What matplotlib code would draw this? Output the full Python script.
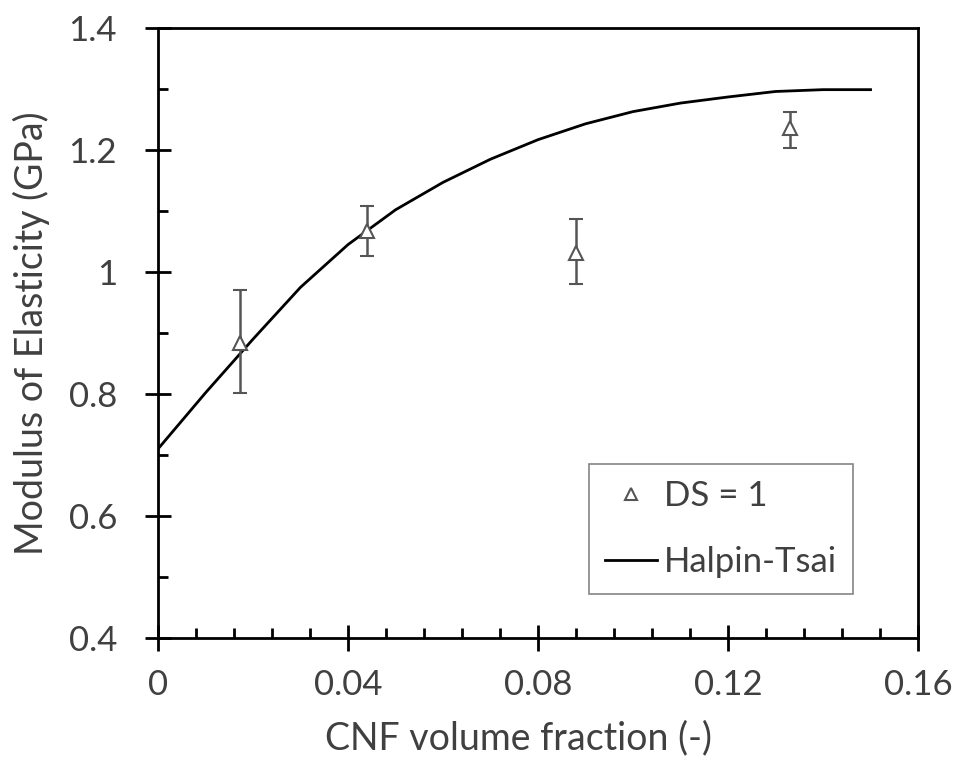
import numpy as np
import matplotlib
matplotlib.use('Agg')
import matplotlib.pyplot as plt
from matplotlib.ticker import MultipleLocator
from matplotlib.lines import Line2D

# izmjereni podaci (DS = 1)
vf = [0.0172, 0.0440, 0.0880, 0.1330]
moe = [0.884, 1.067, 1.032, 1.236]
err_lo = [0.082, 0.041, 0.051, 0.032]
err_hi = [0.087, 0.041, 0.055, 0.027]

# Halpin-Tsai kriva
ht_vf = [0.0, 0.01, 0.02, 0.03, 0.04, 0.05, 0.06, 0.07, 0.08, 0.09,
         0.10, 0.11, 0.12, 0.13, 0.14, 0.15]
ht_moe = [0.710, 0.802, 0.890, 0.975, 1.045, 1.102, 1.147, 1.185, 1.217, 1.243,
          1.263, 1.277, 1.287, 1.296, 1.299, 1.299]

xticks = [0, 0.04, 0.08, 0.12, 0.16]
xtick_labels = ['0', '0.04', '0.08', '0.12', '0.16']
yticks = [0.4, 0.6, 0.8, 1.0, 1.2, 1.4]
ytick_labels = ['0.4', '0.6', '0.8', '1', '1.2', '1.4']

txt = '#404040'
mk = '#555555'
plt.rcParams['font.family'] = ['Lato', 'DejaVu Sans']

fig = plt.figure(figsize=(9.6, 7.58), dpi=100)
ax = fig.add_axes([0.1646, 0.1583, 0.7917, 0.8047])

ax.plot(ht_vf, ht_moe, color='black', lw=2.0, zorder=2)
ax.errorbar(vf, moe, yerr=[err_lo, err_hi], fmt='^', ms=10, mfc='white',
            mec=mk, mew=1.5, ecolor=mk, elinewidth=1.8,
            capsize=5, capthick=1.8, zorder=3)

ax.set_xlim(0, 0.16)
ax.set_ylim(0.4, 1.4)
ax.set_xticks(xticks)
ax.set_xticklabels(xtick_labels)
ax.set_yticks(yticks)
ax.set_yticklabels(ytick_labels)
ax.xaxis.set_minor_locator(MultipleLocator(0.008))
ax.yaxis.set_minor_locator(MultipleLocator(0.1))

ax.tick_params(which='major', direction='inout', length=19, width=2,
               labelsize=25, labelcolor=txt)
ax.tick_params(axis='y', which='major', pad=20)
ax.tick_params(axis='x', which='major', pad=13)
ax.tick_params(which='minor', direction='in', length=7, width=2)
for s in ax.spines.values():
    s.set_linewidth(2)

ax.set_xlabel('CNF volume fraction (-)', fontsize=27, color=txt)
ax.set_ylabel('Modulus of Elasticity (GPa)', fontsize=27, color=txt)
ax.xaxis.set_label_coords(0.474, -0.135)
ax.yaxis.set_label_coords(-0.142, 0.5)

handles = [Line2D([], [], ls='none', marker='^', ms=9, mfc='white', mec=mk, mew=1.5),
           Line2D([], [], color='black', lw=2.0)]
labels = ['DS = 1', 'Halpin-Tsai']
leg = ax.legend(handles, labels, loc='lower right',
                bbox_to_anchor=(0.914, 0.072), borderaxespad=0,
                fontsize=25, frameon=True, fancybox=False, edgecolor='#666666',
                handlelength=1.5, handletextpad=0.2, labelspacing=1.0,
                borderpad=0.45)
leg.get_frame().set_linewidth(1.2)
for t in leg.get_texts():
    t.set_color(txt)

fig.savefig('out.png', dpi=100)
